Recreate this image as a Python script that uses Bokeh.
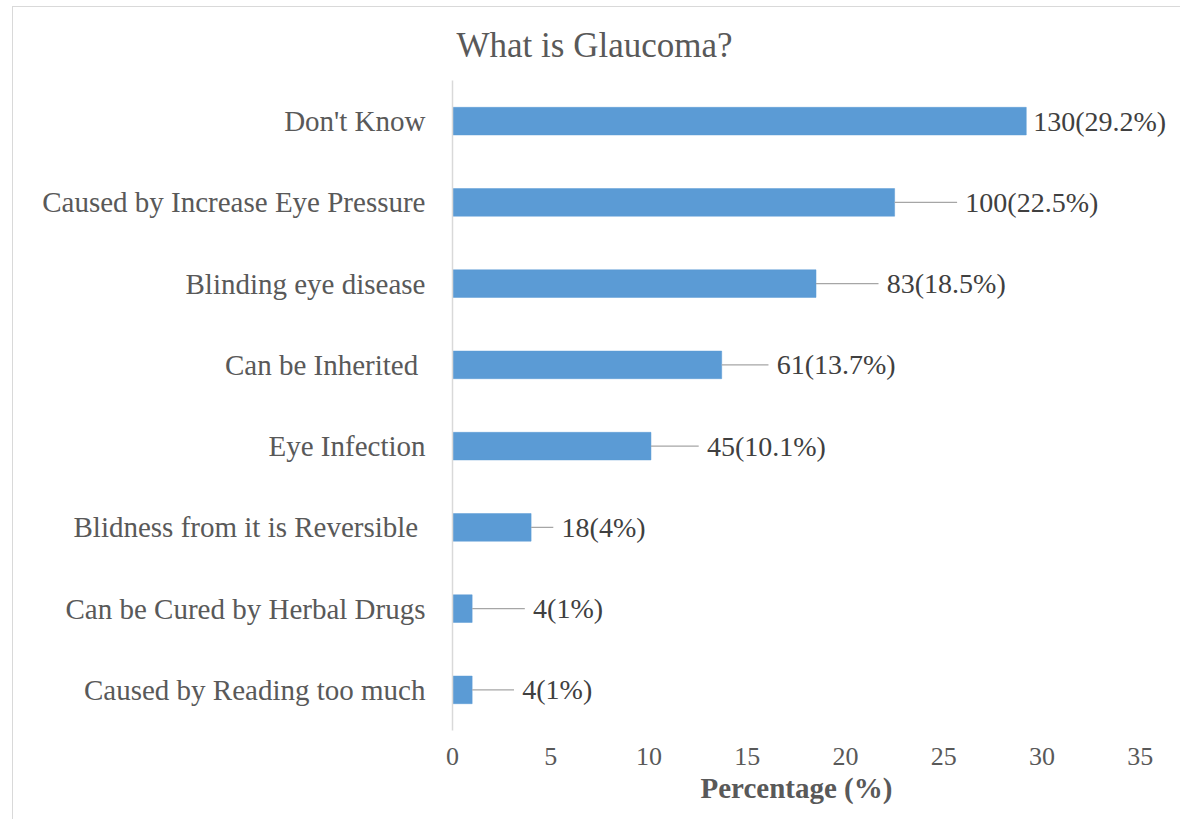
from bokeh.plotting import figure
from bokeh.models import Range1d, FactorRange, ColumnDataSource, FixedTicker, Title
from bokeh.core.properties import value
from bokeh.embed import file_html
from bokeh.resources import INLINE

# ---- data ----
categories = [
    "Don't Know",
    "Caused by Increase Eye Pressure",
    "Blinding eye disease",
    "Can be Inherited ",
    "Eye Infection",
    "Blidness from it is Reversible ",
    "Can be Cured by Herbal Drugs",
    "Caused by Reading too much",
]
counts = [130, 100, 83, 61, 45, 18, 4, 4]
percents = [29.2, 22.5, 18.5, 13.7, 10.1, 4, 1, 1]
# where each data label starts (x, in percentage units)
label_x = [29.55, 26.1, 22.1, 16.5, 12.95, 5.55, 4.1, 3.55]
x_ticks = [0, 5, 10, 15, 20, 25, 30, 35]

labels = [f"{c}({p:g}%)" for c, p in zip(counts, percents)]

FONT = "Liberation Serif"
TXT = "#595959"

p = figure(
    width=1168, height=813,
    y_range=FactorRange(factors=list(reversed(categories))),
    x_range=Range1d(0, 37.1),
    output_backend="svg", toolbar_location=None,
    title="What is Glaucoma?",
    min_border_left=439, min_border_right=0,
    min_border_top=73, min_border_bottom=90,
)
p.margin = (6, 0, 0, 12)
p.styles = {"border-top": "1px solid #d9d9d9", "border-left": "1px solid #d9d9d9"}

p.title.text_font = FONT
p.title.text_font_size = "35px"
p.title.text_font_style = "normal"
p.title.text_color = TXT
p.title.align = "left"
p.title.offset = 4
p.title.standoff = 32

src = ColumnDataSource(dict(cat=categories, pct=percents, lab=labels, lx=label_x))
p.hbar(y="cat", right="pct", left=0, height=0.34, source=src,
       fill_color="#5B9BD5", line_color="#5B9BD5", line_width=0.5)

# leader lines
lead = [(c, v, lx - 0.42) for c, v, lx in zip(categories, percents, label_x) if lx - v > 0.8]
p.segment(x0=[l[1] for l in lead], y0=[l[0] for l in lead],
          x1=[l[2] for l in lead], y1=[l[0] for l in lead],
          line_color="#a6a6a6", line_width=1.3)

p.text(x="lx", y="cat", text="lab", source=src, text_font=value(FONT),
       text_font_size="28px", text_baseline="middle", text_align="left",
       text_color="#404040")

p.xgrid.grid_line_color = None
p.ygrid.grid_line_color = None
p.outline_line_color = None

xa = p.xaxis[0]
xa.ticker = FixedTicker(ticks=x_ticks)
xa.axis_line_color = None
xa.major_tick_line_color = None
xa.minor_tick_line_color = None
xa.major_label_text_font = FONT
xa.major_label_text_font_size = "26px"
xa.major_label_text_color = TXT
xa.major_label_standoff = 11

xlabel = Title(text="Percentage (%)", align="left", offset=248, standoff=4,
               text_font=FONT, text_font_size="29px", text_font_style="bold",
               text_color=TXT)
p.add_layout(xlabel, "below")

ya = p.yaxis[0]
ya.axis_line_color = "#d9d9d9"
ya.axis_line_width = 1.5
ya.major_tick_line_color = None
ya.minor_tick_line_color = None
ya.major_label_text_font = FONT
ya.major_label_text_font_size = "29px"
ya.major_label_text_color = TXT
ya.major_label_standoff = 21

open("out.html", "w").write(file_html(p, INLINE))
